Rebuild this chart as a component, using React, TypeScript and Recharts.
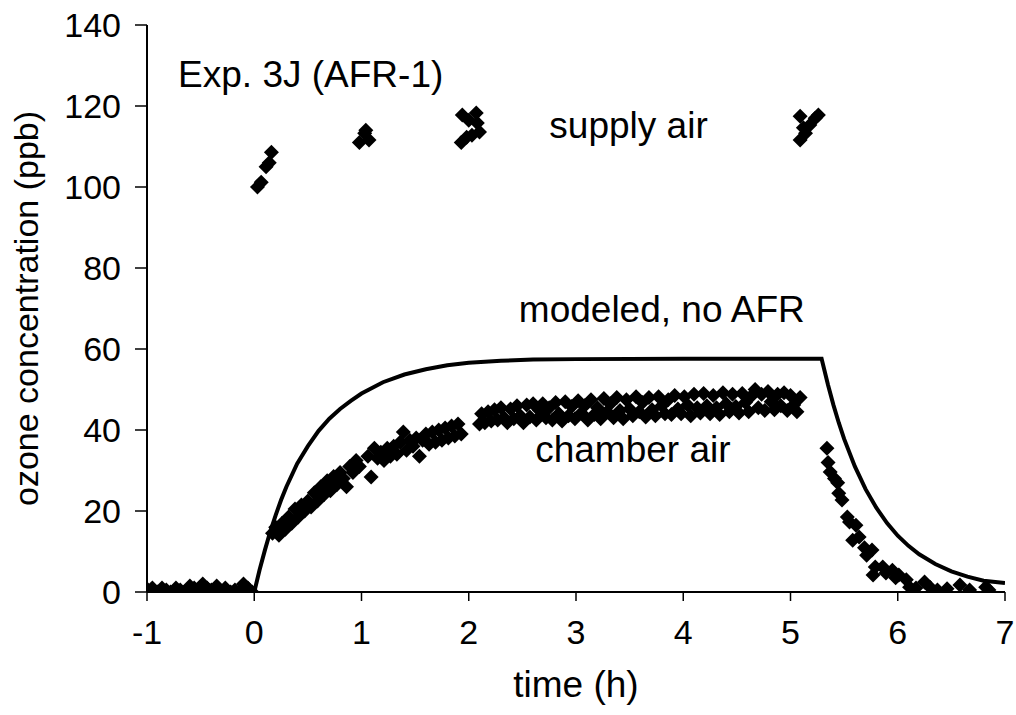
import {
  ComposedChart,
  XAxis,
  YAxis,
  Line,
  Scatter,
  ReferenceDot,
} from "recharts";

const FONT = "'Liberation Sans', Arial, sans-serif";

const X_TICKS = [-1, 0, 1, 2, 3, 4, 5, 6, 7];
const Y_TICKS = [0, 20, 40, 60, 80, 100, 120, 140];

// modeled chamber ozone, no AFR (h, ppb)
const modelTime = [
  0, 0.05, 0.1, 0.15, 0.2, 0.25, 0.3, 0.4, 0.5, 0.6, 0.7, 0.8, 0.9, 1.0, 1.2,
  1.4, 1.6, 1.8, 2.0, 2.3, 2.6, 3.0, 4.0, 5.0, 5.29, 5.35, 5.4, 5.45, 5.5, 5.6,
  5.7, 5.8, 5.9, 6.0, 6.1, 6.2, 6.35, 6.5, 6.65, 6.8, 7.0,
];
const modelConc = [
  0, 5.5, 10.4, 15, 19, 22.7, 26, 31.7, 36, 39.8, 42.8, 45.2, 47.2, 49.0, 51.8,
  53.7, 55.0, 56.0, 56.6, 57.1, 57.4, 57.5, 57.6, 57.6, 57.6, 51.1, 46.2, 41.8,
  37.8, 31.0, 25.4, 20.8, 17.0, 13.9, 11.4, 9.3, 6.9, 5.1, 3.8, 2.8, 2.2,
];

// measured chamber air: before ozone on
const preTime = [
  -0.99, -0.95, -0.9, -0.86, -0.82, -0.78, -0.73, -0.69, -0.65, -0.6, -0.56,
  -0.52, -0.48, -0.44, -0.4, -0.35, -0.31, -0.27, -0.22, -0.18, -0.14, -0.1,
  -0.06, -0.02,
];
const preConc = [
  0.5, 1, 0, 1, 0.5, 0, 1, 0.5, 0, 1.5, 1, 0, 2, 1, 0.5, 1.5, 0, 1, 0, 0.5, 0,
  2, 1, 0,
];

// measured chamber air: rise
const riseTime = [
  0.17, 0.2, 0.23, 0.26, 0.29, 0.32, 0.35, 0.38, 0.41, 0.44,
  0.47, 0.5, 0.53, 0.56, 0.59, 0.62, 0.65, 0.68, 0.71, 0.74,
  0.77, 0.8, 0.83, 0.86, 0.89, 0.92, 0.95, 0.98,
  1.06, 1.09, 1.12, 1.15, 1.18, 1.21, 1.24, 1.27, 1.3, 1.33,
  1.36, 1.39, 1.42, 1.45, 1.48, 1.51, 1.54, 1.57, 1.6, 1.63,
  1.66, 1.69, 1.72, 1.75, 1.78, 1.81, 1.84, 1.87, 1.9, 1.93,
];
const riseConc = [
  14.5, 16, 14, 17, 15.5, 18.5, 17, 20.5, 18.5, 21.5,
  20, 22.5, 21, 24.5, 22.5, 26, 24, 27.5, 25, 28.5,
  26.5, 29.5, 28, 26, 31, 29.5, 32.5, 31,
  33.5, 28.4, 35.5, 33, 34.5, 32.5, 35.5, 33.5, 36, 34,
  37, 39.5, 35, 37.5, 36, 38, 33.5, 37.5, 39, 36.5,
  39.5, 37, 40, 37.5, 40.5, 38, 41, 38.5, 41.5, 39,
];

// measured chamber air: plateau
const plateauTime = [
  2.1, 2.12, 2.15, 2.18, 2.21, 2.24, 2.27, 2.3, 2.33, 2.36,
  2.39, 2.42, 2.45, 2.48, 2.51, 2.54, 2.57, 2.6, 2.63, 2.66,
  2.69, 2.72, 2.75, 2.78, 2.81, 2.84, 2.87, 2.9, 2.93, 2.96,
  2.99, 3.02, 3.05, 3.08, 3.11, 3.14, 3.17, 3.2, 3.23, 3.26,
  3.29, 3.32, 3.35, 3.38, 3.41, 3.44, 3.47, 3.5, 3.53, 3.56,
  3.59, 3.62, 3.65, 3.68, 3.71, 3.74, 3.77, 3.8, 3.83, 3.86,
  3.89, 3.92, 3.95, 3.98, 4.01, 4.04, 4.07, 4.1, 4.13, 4.16,
  4.19, 4.22, 4.25, 4.28, 4.31, 4.34, 4.37, 4.4, 4.43, 4.46,
  4.49, 4.52, 4.55, 4.58, 4.61, 4.64, 4.67, 4.7, 4.73, 4.76,
  4.79, 4.82, 4.85, 4.88, 4.91, 4.94, 4.97, 5.0, 5.03, 5.06,
  5.09,
];
const plateauConc = [
  41.5, 44, 41.8, 44.5, 42.2, 45, 42.5, 45.5, 43, 41.8,
  45.2, 42.8, 46, 43.5, 41.8, 46.2, 43.2, 46.5, 42.5, 44.8,
  46.5, 43, 45.5, 42.5, 46.8, 44, 42.2, 47, 43.5, 45.8,
  42.8, 47.2, 44.2, 46, 42.5, 47.5, 43.8, 45.5, 42.8, 47.8,
  44.5, 46.5, 43, 48, 44.8, 42.8, 47.5, 45.2, 43.5, 48.2,
  44.5, 46.8, 43.2, 48, 45, 43.5, 48.2, 46, 44, 47.5,
  43.8, 48.5, 45.2, 44, 48.2, 46.2, 43.5, 48.8, 45.5, 44.2,
  49, 46, 44, 48.5, 45.5, 43.8, 49.2, 46.5, 44.5, 48.8,
  45.8, 44.2, 49, 46.8, 44.5, 48.5, 50, 45.5, 48.8, 44.8,
  49.5, 47, 45, 48.8, 46, 49.2, 44.8, 48.5, 46.2, 44.5,
  48,
];

// measured chamber air: decay after ozone off
const decayTime = [
  5.34, 5.35, 5.37, 5.41, 5.44, 5.45, 5.48, 5.53, 5.55, 5.58, 5.61, 5.64, 5.69,
  5.71, 5.76, 5.77, 5.79, 5.86, 5.89, 5.95, 5.98, 6.01, 6.08, 6.11, 6.17, 6.25,
  6.3, 6.37, 6.46, 6.58, 6.67, 6.82, 6.85,
];
const decayConc = [
  35.5, 32, 29.6, 28, 27, 24.4, 22.7, 18.5, 17.3, 12.8, 16.5, 13.6, 10.9, 9.1,
  10.4, 4.2, 6.2, 6.2, 4.7, 5.4, 3.5, 4.2, 3, 1.2, 1, 2.5, 1.2, 0.5, 0.8, 1.7,
  0.5, 1.2, 0.5,
];

// measured supply air
const supplyTime = [
  0.03, 0.065, 0.11, 0.14, 0.16,
  0.98, 1.03, 1.04, 1.07,
  1.93, 1.94, 1.98, 2.0, 2.03, 2.07, 2.08, 2.1,
  5.09, 5.09, 5.12, 5.14, 5.18, 5.23, 5.26,
];
const supplyConc = [
  100, 101.2, 105, 106, 108.6,
  111, 113.3, 114, 111.6,
  111, 117.8, 112.3, 116.5, 112.8, 118.3, 115.8, 113.6,
  111.6, 117.5, 114.6, 113.3, 115.3, 117, 117.8,
];

const toPoints = (ts: number[], cs: number[]) =>
  ts.map((t, i) => ({ t, c: cs[i] }));

const model = toPoints(modelTime, modelConc);
const chamber = [
  ...toPoints(preTime, preConc),
  ...toPoints(riseTime, riseConc),
  ...toPoints(plateauTime, plateauConc),
  ...toPoints(decayTime, decayConc),
];
const supply = toPoints(supplyTime, supplyConc);

function Diamond(props: any) {
  const { cx, cy } = props;
  if (cx == null || cy == null) return null;
  const r = 7.5;
  return (
    <polygon
      points={`${cx},${cy - r} ${cx + r},${cy} ${cx},${cy + r} ${cx - r},${cy}`}
      fill="#000"
    />
  );
}

const tickStyle = { fill: "#000", fontSize: 34, fontFamily: FONT };
const noteStyle = { fill: "#000", fontSize: 37, fontFamily: FONT };
const axisLine = { stroke: "#000", strokeWidth: 2 };
const tickLine = { stroke: "#000", strokeWidth: 1.5 };

export default function App() {
  return (
    <div style={{ position: "absolute", left: 0, top: 0, background: "#fff" }}>
      <ComposedChart
        width={1016}
        height={715}
        margin={{ top: 25, right: 11, bottom: 0, left: 0 }}
      >
        <XAxis
          dataKey="t"
          type="number"
          domain={[-1, 7]}
          ticks={X_TICKS}
          allowDataOverflow
          height={123}
          tickSize={9}
          tickMargin={19}
          axisLine={axisLine}
          tickLine={tickLine}
          tick={tickStyle}
          label={{
            value: "time (h)",
            position: "insideBottom",
            offset: 18,
            ...noteStyle,
          }}
        />
        <XAxis
          xAxisId="top"
          orientation="top"
          type="number"
          domain={[-1, 7]}
          height={0}
          tick={false}
          tickLine={false}
          axisLine={axisLine}
        />
        <YAxis
          dataKey="c"
          type="number"
          domain={[0, 140]}
          ticks={Y_TICKS}
          allowDataOverflow
          width={147}
          tickSize={12}
          tickMargin={14}
          axisLine={axisLine}
          tickLine={tickLine}
          tick={tickStyle}
          label={{
            value: "ozone concentration (ppb)",
            angle: -90,
            position: "insideLeft",
            offset: 26,
            style: { textAnchor: "middle" },
            ...tickStyle,
          }}
        />
        <YAxis
          yAxisId="right"
          orientation="right"
          mirror
          type="number"
          domain={[0, 140]}
          ticks={Y_TICKS}
          width={0}
          tick={false}
          tickSize={8}
          axisLine={axisLine}
          tickLine={tickLine}
        />
        <Line
          data={model}
          dataKey="c"
          type="linear"
          stroke="#000"
          strokeWidth={4}
          dot={false}
          activeDot={false}
          isAnimationActive={false}
        />
        <Scatter
          data={chamber}
          dataKey="c"
          fill="#000"
          shape={Diamond}
          isAnimationActive={false}
        />
        <Scatter
          data={supply}
          dataKey="c"
          fill="#000"
          shape={Diamond}
          isAnimationActive={false}
        />
        <ReferenceDot
          x={-0.71}
          y={128}
          r={0}
          fill="none"
          stroke="none"
          label={{ value: "Exp. 3J (AFR-1)", position: "right", offset: 0, ...noteStyle }}
        />
        <ReferenceDot
          x={3.49}
          y={115.3}
          r={0}
          fill="none"
          stroke="none"
          label={{ value: "supply air", position: "center", ...noteStyle }}
        />
        <ReferenceDot
          x={3.8}
          y={69.9}
          r={0}
          fill="none"
          stroke="none"
          label={{ value: "modeled, no AFR", position: "center", ...noteStyle }}
        />
        <ReferenceDot
          x={3.53}
          y={35.4}
          r={0}
          fill="none"
          stroke="none"
          label={{ value: "chamber air", position: "center", ...noteStyle }}
        />
      </ComposedChart>
    </div>
  );
}
